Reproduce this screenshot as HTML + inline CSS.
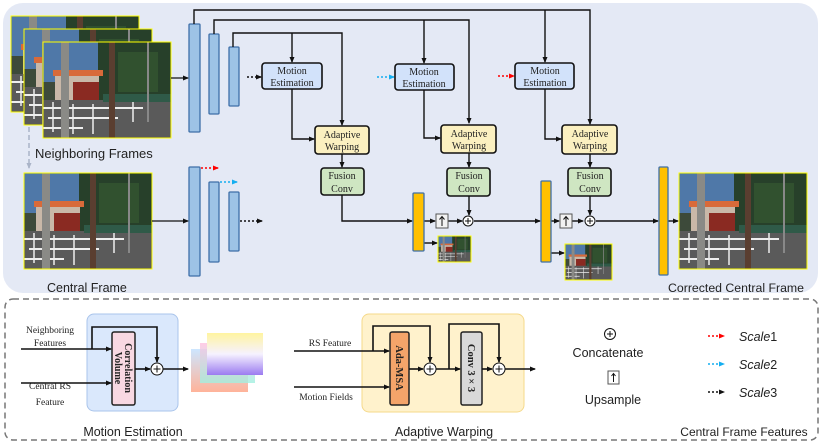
<!DOCTYPE html>
<html><head><meta charset="utf-8"><style>
html,body{margin:0;padding:0;background:#fff}
svg{display:block}
text{font-family:"Liberation Serif",serif;fill:#222}
.l{font-family:"Liberation Sans",sans-serif}
</style></head><body>
<svg width="822" height="444" viewBox="0 0 822 444" xmlns="http://www.w3.org/2000/svg">
<defs>
<marker id="a" markerWidth="6" markerHeight="6" refX="5" refY="3" orient="auto" markerUnits="userSpaceOnUse"><path d="M0,0.5 L6,3 L0,5.5z" fill="#111"/></marker>
<marker id="ar" markerWidth="6" markerHeight="6" refX="5" refY="3" orient="auto" markerUnits="userSpaceOnUse"><path d="M0,0.5 L6,3 L0,5.5z" fill="#f00"/></marker>
<marker id="ac" markerWidth="6" markerHeight="6" refX="5" refY="3" orient="auto" markerUnits="userSpaceOnUse"><path d="M0,0.5 L6,3 L0,5.5z" fill="#14aef0"/></marker>
<marker id="ag" markerWidth="6" markerHeight="6" refX="5" refY="3" orient="auto" markerUnits="userSpaceOnUse"><path d="M0,0.5 L6,3 L0,5.5z" fill="#aab4c8"/></marker>
<symbol id="ph" viewBox="0 0 128 96" preserveAspectRatio="none">
<rect width="128" height="96" fill="#3d4a3a"/>
<rect width="70" height="40" fill="#4f78a8"/>
<rect x="55" y="0" width="73" height="60" fill="#27402a"/>
<rect x="75" y="10" width="40" height="40" fill="#31512f"/>
<rect x="10" y="28" width="50" height="6" fill="#d86a3a"/>
<rect x="12" y="34" width="44" height="30" fill="#c9b8a8"/>
<rect x="30" y="40" width="26" height="22" fill="#8a2a22"/>
<rect x="0" y="58" width="128" height="38" fill="#5a5a5a"/>
<rect x="60" y="52" width="68" height="8" fill="#2f5a48"/>
<path d="M0,66 H100 M5,76 H75 M0,86 H40" stroke="#eee" stroke-width="2"/>
<path d="M10,60 V90 M30,62 V92 M50,62 V92 M70,66 V86 M90,60 V80" stroke="#eee" stroke-width="1.5"/>
<rect x="18" y="0" width="8" height="96" fill="#8a8a86"/>
<rect x="66" y="0" width="6" height="96" fill="#5a3e30"/>
<rect x="104" y="0" width="2" height="80" fill="#888"/>
</symbol>
<linearGradient id="fl1" x1="0" y1="0" x2="0" y2="1"><stop offset="0" stop-color="#fff4a0"/><stop offset="0.5" stop-color="#f6f2ff"/><stop offset="1" stop-color="#9b7bf0"/></linearGradient>
<linearGradient id="fl2" x1="0" y1="0" x2="0" y2="1"><stop offset="0" stop-color="#ffc0e0"/><stop offset="1" stop-color="#a0f0e0"/></linearGradient>
<linearGradient id="fl3" x1="0" y1="0" x2="0" y2="1"><stop offset="0" stop-color="#c0e0ff"/><stop offset="1" stop-color="#ffa080"/></linearGradient>
</defs>

<rect x="3" y="3" width="815" height="290" rx="20" fill="#e4e9f5"/>

<use href="#ph" x="11" y="16" width="128" height="96"/><rect x="11" y="16" width="128" height="96" fill="none" stroke="#ff0" stroke-width="1"/>
<use href="#ph" x="24" y="29" width="128" height="96"/><rect x="24" y="29" width="128" height="96" fill="none" stroke="#ff0" stroke-width="1"/>
<use href="#ph" x="43" y="42" width="128" height="96"/><rect x="43" y="42" width="128" height="96" fill="none" stroke="#ff0" stroke-width="1"/>
<text x="35" y="158" class="l" font-size="13">Neighboring Frames</text>
<line x1="29" y1="127" x2="29" y2="168" stroke="#aab4c8" stroke-width="1.5" stroke-dasharray="5,3" marker-end="url(#ag)"/>
<use href="#ph" x="24" y="173" width="128" height="96"/><rect x="24" y="173" width="128" height="96" fill="none" stroke="#ff0"/>
<text x="47" y="292" class="l" font-size="12.5">Central Frame</text>

<g fill="#9dc3e6" stroke="#3e6fa8" stroke-width="1.3">
<rect x="189" y="24" width="11" height="108" rx="1"/>
<rect x="209" y="34" width="10" height="80" rx="1"/>
<rect x="229" y="47" width="10" height="59" rx="1"/>
<rect x="189" y="167" width="11" height="109" rx="1"/>
<rect x="209" y="182" width="10" height="80" rx="1"/>
<rect x="229" y="192" width="10" height="59" rx="1"/>
</g>
<line x1="171" y1="78" x2="188" y2="78" stroke="#111" stroke-width="1.3" marker-end="url(#a)"/>
<line x1="152" y1="221" x2="188" y2="221" stroke="#111" stroke-width="1.3" marker-end="url(#a)"/>

<g stroke-width="1.5" stroke-dasharray="2,2" fill="none">
<line x1="247" y1="77" x2="261" y2="77" stroke="#111" marker-end="url(#a)"/>
<line x1="240" y1="221" x2="262" y2="221" stroke="#111" marker-end="url(#a)"/>
<line x1="201" y1="168" x2="218" y2="168" stroke="#f00" marker-end="url(#ar)"/>
<line x1="220" y1="182" x2="237" y2="182" stroke="#14aef0" marker-end="url(#ac)"/>
<line x1="377" y1="77" x2="394" y2="77" stroke="#14aef0" marker-end="url(#ac)"/>
<line x1="498" y1="76" x2="514" y2="76" stroke="#f00" marker-end="url(#ar)"/>
</g>

<g stroke="#111" stroke-width="1.4" fill="none">
<polyline points="194,24 194,10 590,10 590,124" marker-end="url(#a)"/>
<line x1="545" y1="10" x2="545" y2="62" marker-end="url(#a)"/>
<polyline points="214,34 214,20 469,20 469,123" marker-end="url(#a)"/>
<line x1="424" y1="20" x2="424" y2="63" marker-end="url(#a)"/>
<polyline points="233,47 233,33 342,33 342,125" marker-end="url(#a)"/>
<line x1="292" y1="33" x2="292" y2="62" marker-end="url(#a)"/>
<polyline points="292,89 292,139 314,139" marker-end="url(#a)"/>
<polyline points="424,90 424,138 440,138" marker-end="url(#a)"/>
<polyline points="545,89 545,139 561,139" marker-end="url(#a)"/>
<line x1="342" y1="154" x2="342" y2="167" marker-end="url(#a)"/>
<line x1="469" y1="153" x2="469" y2="167" marker-end="url(#a)"/>
<line x1="590" y1="154" x2="590" y2="167" marker-end="url(#a)"/>
<polyline points="342,195 342,221 412,221" marker-end="url(#a)"/>
<line x1="469" y1="196" x2="469" y2="215" marker-end="url(#a)"/>
<line x1="590" y1="196" x2="590" y2="215" marker-end="url(#a)"/>
<line x1="424" y1="221" x2="435" y2="221" marker-end="url(#a)"/>
<line x1="448" y1="221" x2="462" y2="221" marker-end="url(#a)"/>
<line x1="474" y1="221" x2="540" y2="221" marker-end="url(#a)"/>
<line x1="551" y1="221" x2="559" y2="221" marker-end="url(#a)"/>
<line x1="572" y1="221" x2="583" y2="221" marker-end="url(#a)"/>
<line x1="596" y1="221" x2="658" y2="221" marker-end="url(#a)"/>
<line x1="668" y1="221" x2="678" y2="221" marker-end="url(#a)"/>
<line x1="424" y1="243" x2="437" y2="243" marker-end="url(#a)"/>
<line x1="551" y1="253" x2="564" y2="253" marker-end="url(#a)"/>
</g>

<g stroke="#111" stroke-width="1.6">
<rect x="262" y="63" width="60" height="26" rx="3" fill="#d2e2fa"/>
<rect x="395" y="64" width="59" height="26" rx="3" fill="#d2e2fa"/>
<rect x="515" y="63" width="59" height="26" rx="3" fill="#d2e2fa"/>
<rect x="315" y="126" width="54" height="28" rx="3" fill="#fbf0c0"/>
<rect x="441" y="125" width="55" height="28" rx="3" fill="#fbf0c0"/>
<rect x="562" y="125" width="55" height="29" rx="3" fill="#fbf0c0"/>
<rect x="321" y="168" width="43" height="27" rx="3" fill="#cfe6c2"/>
<rect x="447" y="168" width="43" height="28" rx="3" fill="#cfe6c2"/>
<rect x="568" y="168" width="43" height="28" rx="3" fill="#cfe6c2"/>
</g>
<g font-size="10" text-anchor="middle">
<text x="292" y="74">Motion</text><text x="292" y="86">Estimation</text>
<text x="424" y="75">Motion</text><text x="424" y="87">Estimation</text>
<text x="545" y="74">Motion</text><text x="545" y="86">Estimation</text>
<text x="342" y="138">Adaptive</text><text x="342" y="150">Warping</text>
<text x="469" y="137">Adaptive</text><text x="469" y="149">Warping</text>
<text x="590" y="137">Adaptive</text><text x="590" y="149">Warping</text>
<text x="342" y="179">Fusion</text><text x="342" y="192">Conv</text>
<text x="469" y="179">Fusion</text><text x="469" y="192">Conv</text>
<text x="590" y="179">Fusion</text><text x="590" y="192">Conv</text>
</g>

<g fill="#ffc000" stroke="#3e6fa8" stroke-width="1.3">
<rect x="413" y="193" width="11" height="58" rx="1"/>
<rect x="541" y="181" width="10" height="81" rx="1"/>
<rect x="659" y="167" width="9" height="108" rx="1"/>
</g>
<g stroke="#555" stroke-width="1" fill="#f2f2f2">
<rect x="436" y="214" width="12" height="14"/>
<rect x="560" y="214" width="12" height="14"/>
</g>
<g stroke="#111" stroke-width="1" fill="none">
<path d="M442,226 V217 M439.5,219.5 L442,216.5 L444.5,219.5"/>
<path d="M566,226 V217 M563.5,219.5 L566,216.5 L568.5,219.5"/>
<circle cx="468" cy="221" r="5" fill="#fff"/><path d="M465,221 H471 M468,218 V224"/>
<circle cx="590" cy="221" r="5" fill="#fff"/><path d="M587,221 H593 M590,218 V224"/>
</g>
<use href="#ph" x="438" y="236" width="33" height="26"/><rect x="438" y="236" width="33" height="26" fill="none" stroke="#ff0"/>
<use href="#ph" x="565" y="244" width="47" height="36"/><rect x="565" y="244" width="47" height="36" fill="none" stroke="#ff0"/>
<use href="#ph" x="679" y="173" width="128" height="96"/><rect x="679" y="173" width="128" height="96" fill="none" stroke="#ff0"/>
<text x="668" y="292" class="l" font-size="12.3">Corrected Central Frame</text>

<rect x="5" y="299" width="813" height="141" rx="8" fill="#fff" stroke="#777" stroke-width="1.5" stroke-dasharray="6,4"/>

<rect x="87" y="314" width="91" height="97" rx="7" fill="#dae8fc" stroke="#a9c4eb"/>
<rect x="112" y="332" width="23" height="73" rx="2" fill="#f8d8e2" stroke="#222" stroke-width="1.5"/>
<text transform="translate(125,368) rotate(90)" font-size="10" font-weight="bold" text-anchor="middle">Correlation</text>
<text transform="translate(115,368) rotate(90)" font-size="10" font-weight="bold" text-anchor="middle">Volume</text>
<text x="50" y="333" font-size="9.5" text-anchor="middle">Neighboring</text>
<text x="50" y="346" font-size="9.5" text-anchor="middle">Features</text>
<text x="50" y="389" font-size="9.5" text-anchor="middle">Central RS</text>
<text x="50" y="405" font-size="9.5" text-anchor="middle">Feature</text>
<g stroke="#111" stroke-width="1.6" fill="none">
<line x1="21" y1="349" x2="111" y2="349" marker-end="url(#a)"/>
<line x1="21" y1="383" x2="111" y2="383" marker-end="url(#a)"/>
<polyline points="92,349 92,327 157,327 157,362" marker-end="url(#a)"/>
<line x1="135" y1="369" x2="150" y2="369" marker-end="url(#a)"/>
<line x1="163" y1="369" x2="188" y2="369" marker-end="url(#a)"/>
<circle cx="157" cy="369" r="6" fill="#fff" stroke-width="1"/>
<path d="M153.5,369 H160.5 M157,365.5 V372.5" stroke-width="1"/>
</g>
<rect x="191" y="349" width="57" height="43" fill="url(#fl3)" opacity="0.8"/>
<rect x="200" y="343" width="55" height="40" fill="url(#fl2)" opacity="0.8"/>
<rect x="207" y="333" width="56" height="42" fill="url(#fl1)"/>
<text x="133" y="436" class="l" font-size="12.5" text-anchor="middle">Motion Estimation</text>

<rect x="362" y="314" width="162" height="98" rx="7" fill="#fff2cc" stroke="#f5d98a"/>
<text x="330" y="346" font-size="9.5" text-anchor="middle">RS Feature</text>
<text x="326" y="400" font-size="9.5" text-anchor="middle">Motion Fields</text>
<rect x="390" y="332" width="19" height="73" rx="2" fill="#f4a46a" stroke="#222" stroke-width="1.5"/>
<text transform="translate(396,368) rotate(90)" font-size="10.5" font-weight="bold" text-anchor="middle">Ada-MSA</text>
<rect x="461" y="332" width="21" height="73" rx="2" fill="#d9d9d9" stroke="#222" stroke-width="1.5"/>
<text transform="translate(468,368) rotate(90)" font-size="10.5" font-weight="bold" text-anchor="middle">Conv 3 × 3</text>
<g stroke="#111" stroke-width="1.6" fill="none">
<line x1="294" y1="351" x2="389" y2="351" marker-end="url(#a)"/>
<line x1="294" y1="387" x2="389" y2="387" marker-end="url(#a)"/>
<polyline points="373,351 373,326 430,326 430,362" marker-end="url(#a)"/>
<line x1="409" y1="369" x2="423" y2="369" marker-end="url(#a)"/>
<line x1="436" y1="369" x2="460" y2="369" marker-end="url(#a)"/>
<polyline points="449,369 449,324 499,324 499,362" marker-end="url(#a)"/>
<line x1="482" y1="369" x2="492" y2="369" marker-end="url(#a)"/>
<line x1="505" y1="369" x2="535" y2="369" marker-end="url(#a)"/>
<circle cx="430" cy="369" r="6" fill="#fff" stroke-width="1"/>
<path d="M426.5,369 H433.5 M430,365.5 V372.5" stroke-width="1"/>
<circle cx="499" cy="369" r="6" fill="#fff" stroke-width="1"/>
<path d="M495.5,369 H502.5 M499,365.5 V372.5" stroke-width="1"/>
</g>
<text x="444" y="436" class="l" font-size="12.5" text-anchor="middle">Adaptive Warping</text>

<g stroke="#111" stroke-width="1" fill="none">
<circle cx="610" cy="334" r="5.5"/><path d="M607,334 H613 M610,331 V337"/>
<rect x="608" y="371" width="11" height="13" stroke="#555"/><path d="M613.5,382 V374 M611.5,376 L613.5,373.5 L615.5,376"/>
</g>
<text x="608" y="357" class="l" font-size="12.5" text-anchor="middle">Concatenate</text>
<text x="613" y="404" class="l" font-size="12.5" text-anchor="middle">Upsample</text>
<g stroke-width="1.5" stroke-dasharray="2,2">
<line x1="708" y1="336" x2="724" y2="336" stroke="#f00" marker-end="url(#ar)"/>
<line x1="708" y1="364" x2="724" y2="364" stroke="#14aef0" marker-end="url(#ac)"/>
<line x1="708" y1="392" x2="724" y2="392" stroke="#111" marker-end="url(#a)"/>
</g>
<g class="l" font-size="12.5" font-style="italic">
<text x="739" y="341" class="l">Scale<tspan font-style="normal">1</tspan></text>
<text x="739" y="369" class="l">Scale<tspan font-style="normal">2</tspan></text>
<text x="739" y="397" class="l">Scale<tspan font-style="normal">3</tspan></text>
</g>
<text x="744" y="436" class="l" font-size="12" text-anchor="middle">Central Frame Features</text>
</svg>
</body></html>
